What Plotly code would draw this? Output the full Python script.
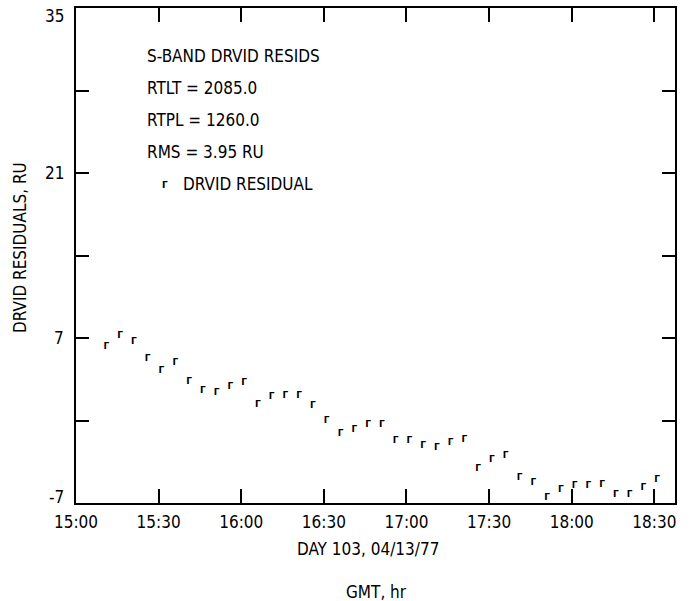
import plotly.graph_objects as go

# DRVID residual samples, every 5 minutes from 15:10 to 18:30 GMT
times = [
    "15:10", "15:15", "15:20", "15:25", "15:30", "15:35", "15:40", "15:45",
    "15:50", "15:55", "16:00", "16:05", "16:10", "16:15", "16:20", "16:25",
    "16:30", "16:35", "16:40", "16:45", "16:50", "16:55", "17:00", "17:05",
    "17:10", "17:15", "17:20", "17:25", "17:30", "17:35", "17:40", "17:45",
    "17:50", "17:55", "18:00", "18:05", "18:10", "18:15", "18:20", "18:25",
    "18:30",
]
residuals = [
    6.24, 7.17, 6.66, 5.23, 4.19, 4.87, 3.26, 2.55,
    2.34, 2.84, 3.23, 1.35, 2.00, 2.11, 2.13, 1.26,
    -0.03, -1.10, -0.82, -0.34, -0.34, -1.71, -1.71, -2.11,
    -2.28, -1.88, -1.60, -4.13, -3.37, -2.95, -4.88, -5.31,
    -6.58, -5.90, -5.54, -5.51, -5.46, -6.30, -6.33, -5.74,
    -5.04,
]
y_tick_vals = [-7, 0, 7, 14, 21, 28, 35]
y_label_vals = [-7, 7, 21, 35]
y_label_text = ["-7", "7", "21", "35"]
info_lines = [
    "S-BAND DRVID RESIDS",
    "RTLT = 2085.0",
    "RTPL = 1260.0",
    "RMS = 3.95 RU",
]
DAY = "1977-04-13 "
FONT = "DejaVu Sans Condensed, DejaVu Sans"
FS = 17

x_vals = [DAY + t for t in times]

fig = go.Figure()
fig.add_trace(go.Scatter(
    x=x_vals, y=residuals, mode="text", text=["Γ"] * len(times),
    textposition="middle right",
    textfont=dict(family="DejaVu Sans", size=9, color="black", weight="bold"),
    hoverinfo="x+y", showlegend=False,
))

axis_common = dict(
    showgrid=False, zeroline=False, showline=True, linecolor="black",
    linewidth=2, mirror="ticks", ticks="inside", tickcolor="black",
    tickwidth=1.5, tickfont=dict(family=FONT, size=FS, color="black"),
)

fig.update_xaxes(
    type="date", range=[DAY + "15:00", DAY + "18:37:30"],
    tick0=DAY + "15:00", dtick=30 * 60 * 1000, tickformat="%H:%M",
    ticklen=14, ticklabelstandoff=3, **axis_common,
)
fig.update_yaxes(
    range=[-7, 35], tickvals=y_tick_vals, showticklabels=False,
    ticklen=13, **axis_common,
)

L, R, T, B = 76, 15, 6, 98
W, H = 690, 601
pw, ph = W - L - R, H - T - B

annotations = []
# y-axis value labels; the end labels sit just inside the frame height
label_pix_shift = {35: 8, -7: -6}
for v, txt in zip(y_label_vals, y_label_text):
    annotations.append(dict(
        text=txt, x=66, y=v, xref="paper", yref="y",
        xanchor="right", yanchor="middle", showarrow=False,
        yshift=-label_pix_shift.get(v, 0),
        font=dict(family=FONT, size=FS, color="black"),
    ))

line_y = [54, 86, 118, 151]
for txt, py in zip(info_lines, line_y):
    annotations.append(dict(
        text=txt, x=145, y=601 - py, xref="paper", yref="paper",
        xanchor="left", yanchor="middle", showarrow=False,
        font=dict(family=FONT, size=FS, color="black"),
    ))
annotations.append(dict(
    text="Γ", x=160, y=601 - 184, xref="paper", yref="paper",
    xanchor="left", yanchor="middle", showarrow=False,
    font=dict(family="DejaVu Sans", size=9, color="black", weight="bold"),
))
annotations.append(dict(
    text="DRVID RESIDUAL", x=181, y=601 - 183, xref="paper", yref="paper",
    xanchor="left", yanchor="middle", showarrow=False,
    font=dict(family=FONT, size=FS, color="black"),
))
annotations.append(dict(
    text="DAY 103, 04/13/77", x=368, y=601 - 549, xref="paper", yref="paper",
    xanchor="center", yanchor="middle", showarrow=False,
    font=dict(family=FONT, size=FS, color="black"),
))
annotations.append(dict(
    text="GMT, hr", x=376, y=601 - 592, xref="paper", yref="paper",
    xanchor="center", yanchor="middle", showarrow=False,
    font=dict(family=FONT, size=FS, color="black"),
))
annotations.append(dict(
    text="DRVID RESIDUALS, RU", x=20, y=601 - 247, xref="paper", yref="paper",
    xanchor="center", yanchor="middle", showarrow=False, textangle=-90,
    font=dict(family=FONT, size=FS, color="black"),
))

# convert pixel-based anchors to paper fractions
for a in annotations:
    a["x"] = (a["x"] - L) / pw
    if a["yref"] == "paper":
        a["y"] = (a["y"] - B) / ph

fig.update_layout(
    width=W, height=H, margin=dict(l=L, r=R, t=T, b=B),
    paper_bgcolor="white", plot_bgcolor="white",
    annotations=annotations,
    font=dict(family=FONT, color="black"),
)

fig.write_html("out.html")
